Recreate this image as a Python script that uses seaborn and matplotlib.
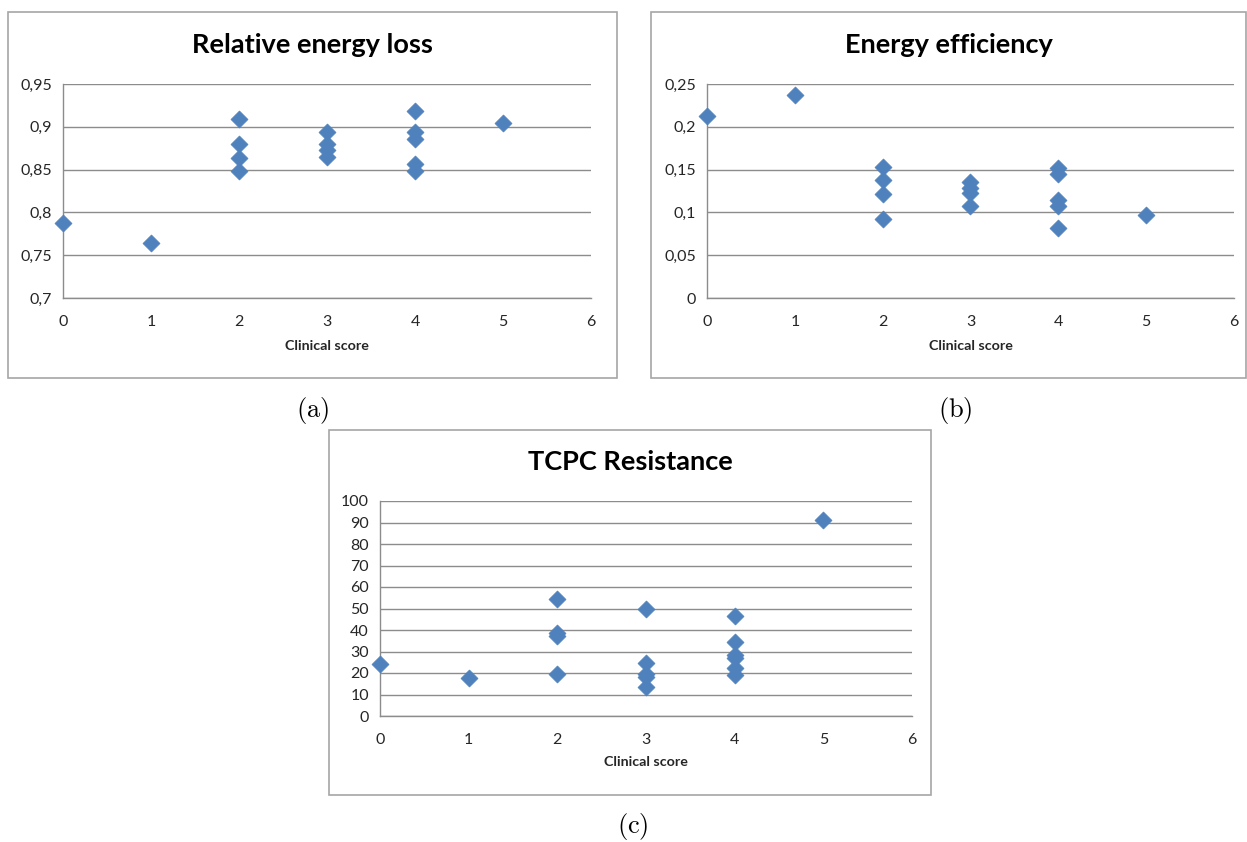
import matplotlib
matplotlib.use("Agg")
import matplotlib.pyplot as plt
import seaborn as sns
import pandas as pd
from matplotlib.patches import Rectangle

# ---------------- data ----------------
score_a = [0, 1, 2, 2, 2, 2, 3, 3, 3, 3, 4, 4, 4, 4, 4, 5]
loss_a = [0.788, 0.764, 0.909, 0.880, 0.863, 0.848, 0.894, 0.880, 0.873, 0.865,
          0.918, 0.894, 0.886, 0.856, 0.848, 0.905]

score_b = [0, 1, 2, 2, 2, 2, 3, 3, 3, 3, 4, 4, 4, 4, 4, 5]
eff_b = [0.213, 0.237, 0.153, 0.138, 0.122, 0.092, 0.136, 0.129, 0.123, 0.107,
         0.152, 0.145, 0.115, 0.108, 0.082, 0.097]

score_c = [0, 1, 2, 2, 2, 2, 3, 3, 3, 3, 3, 4, 4, 4, 4, 4, 4, 5]
res_c = [24.1, 17.6, 54.2, 38.4, 37.2, 19.5, 50.0, 24.8, 19.5, 18.3, 13.3,
         46.4, 34.5, 28.5, 26.8, 22.4, 19.2, 91.0]

titles = ["Relative energy loss", "Energy efficiency", "TCPC Resistance"]
captions = ["(a)", "(b)", "(c)"]
xlabel = "Clinical score"
xticks = [0, 1, 2, 3, 4, 5, 6]
yticks_a = [0.7, 0.75, 0.8, 0.85, 0.9, 0.95]
yticklabels_a = ["0,7", "0,75", "0,8", "0,85", "0,9", "0,95"]
yticks_b = [0, 0.05, 0.1, 0.15, 0.2, 0.25]
yticklabels_b = ["0", "0,05", "0,1", "0,15", "0,2", "0,25"]
yticks_c = [0, 10, 20, 30, 40, 50, 60, 70, 80, 90, 100]
yticklabels_c = [str(v) for v in yticks_c]

# ---------------- style ----------------
sns.set_theme(style="white")
plt.rcParams["font.family"] = ["Lato", "DejaVu Sans"]
plt.rcParams["mathtext.fontset"] = "cm"

W, H = 1247, 842
fig = plt.figure(figsize=(W / 100, H / 100), dpi=100)
fig.patch.set_facecolor("white")

MARK = "#4F81BD"
GRID = "#8C8C8C"
BOX = "#A6A6A6"
TXT = "#262626"


def rect(l, r, t, b):
    return [l / W, 1 - b / H, (r - l) / W, (b - t) / H]


def frame(l, r, t, b):
    fig.patches.append(Rectangle((l / W, 1 - b / H), (r - l) / W, (b - t) / H,
                                 transform=fig.transFigure, fill=False,
                                 edgecolor=BOX, linewidth=1.2))


panels = [
    dict(box=(8, 617, 12, 378), ax=(63, 591, 84, 298), x=score_a, y=loss_a,
         yt=yticks_a, ytl=yticklabels_a, title_y=45, xl_y=346, cap=(313, 411)),
    dict(box=(651, 1246, 12, 378), ax=(707, 1234, 84, 298), x=score_b, y=eff_b,
         yt=yticks_b, ytl=yticklabels_b, title_y=45, xl_y=346, cap=(955, 411)),
    dict(box=(329, 931, 430, 795), ax=(380, 912, 501, 716), x=score_c, y=res_c,
         yt=yticks_c, ytl=yticklabels_c, title_y=462, xl_y=762, cap=(633, 826)),
]

for i, p in enumerate(panels):
    frame(*p["box"])
    l, r, t, b = p["ax"]
    ax = fig.add_axes(rect(l, r, t, b))
    df = pd.DataFrame({"score": p["x"], "value": p["y"]})
    sns.scatterplot(data=df, x="score", y="value", ax=ax, marker="D", s=75,
                    color=MARK, edgecolor=MARK, linewidth=0.5, clip_on=False,
                    zorder=5)
    ax.set_xlim(0, 6)
    ax.set_ylim(p["yt"][0], p["yt"][-1])
    ax.set_xticks(xticks)
    ax.set_xticklabels([str(v) for v in xticks])
    ax.set_yticks(p["yt"])
    ax.set_yticklabels(p["ytl"])
    ax.set_xlabel("")
    ax.set_ylabel("")
    ax.set_facecolor("none")
    for s in ["top", "right"]:
        ax.spines[s].set_visible(False)
    for s in ["left", "bottom"]:
        ax.spines[s].set_color(GRID)
        ax.spines[s].set_linewidth(1.0)
    ax.yaxis.grid(True, color=GRID, linewidth=1.0)
    ax.set_axisbelow(True)
    ax.tick_params(axis="both", direction="out", length=5, width=1.0,
                   color=GRID, labelsize=11.5, labelcolor=TXT, pad=3)
    ax.tick_params(axis="x", pad=7)

    bl, br, bt, bb = p["box"]
    fig.text(((bl + br) / 2) / W, 1 - p["title_y"] / H, titles[i],
             ha="center", va="center", fontsize=19.5, fontweight="bold", color="black")
    fig.text(((l + r) / 2) / W, 1 - p["xl_y"] / H, xlabel,
             ha="center", va="center", fontsize=10.3, fontweight="bold", color=TXT)
    cx, cy = p["cap"]
    fig.text(cx / W, 1 - cy / H, r"$\mathrm{" + captions[i] + "}$",
             ha="center", va="center", fontsize=19, color="black")

fig.savefig("out.png", dpi=100, facecolor="white")
